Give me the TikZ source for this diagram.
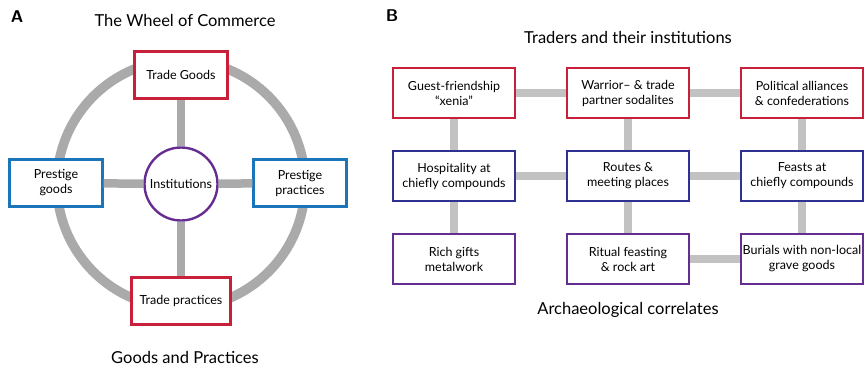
\documentclass[tikz,border=0pt]{standalone}
\usepackage{fontspec}
\setmainfont{Lato}
\usetikzlibrary{positioning}

\definecolor{tradered}{HTML}{C8203A}
\definecolor{prestigeblue}{HTML}{1B75BB}
\definecolor{routenavy}{HTML}{2E3192}
\definecolor{relicpurple}{HTML}{662D91}
\definecolor{wheelgray}{HTML}{AAAAAA}
\definecolor{linkgray}{HTML}{C2C2C2}

\tikzset{
	box/.style={draw, line width=2.4pt, fill=white, align=center, inner sep=0pt,
		font=\fontsize{12.5}{15}\selectfont},
	wbox/.style={box, minimum width=93pt, minimum height=47pt},
	gbox/.style={box, minimum width=122pt, minimum height=50pt},
	spoke/.style={line width=8.5pt, wheelgray},
	link/.style={line width=8.5pt, linkgray},
	title/.style={font=\fontsize{16.5}{19}\selectfont},
	panel/.style={font=\sffamily\bfseries\fontsize{17}{19}\selectfont}
}

\begin{document}
\begin{tikzpicture}[x=1pt, y=-1pt]
	\useasboundingbox (0,0) rectangle (865,368);

	% panel A: the wheel
	\node [panel] (pa) at (17,17) {A};
	\node [title] (wtitle) at (185,20) {The Wheel of Commerce};
	\node [title] (wfoot) at (185,357) {Goods and Practices};

	\coordinate (hub) at (181,184);
	\draw [spoke, line width=9.5pt] (hub) circle [radius=124];

	\node [wbox, draw=tradered] (goods) at (181,75) {Trade Goods};
	\node [wbox, draw=prestigeblue] (pgoods) at (56,183) {Prestige\\goods};
	\node [wbox, draw=prestigeblue] (ppract) at (300,183) {Prestige\\practices};
	\node [wbox, draw=tradered, minimum width=99pt] (practs) at (181,301) {Trade practices};
	\node [box, circle, draw=relicpurple, minimum size=73pt] (inst) at (hub) {Institutions};

	\draw [spoke] (inst) -- (goods);
	\draw [spoke] (inst) -- (pgoods);
	\draw [spoke] (inst) -- (ppract);
	\draw [spoke] (inst) -- (practs);

	% panel B: the grid
	\node [panel] (pb) at (392,16) {B};
	\node [title] (gtitle) at (628,37) {Traders and their institutions};
	\node [title] (gfoot) at (628,310) {Archaeological correlates};

	\node [gbox, draw=tradered] (xenia) at (454,93) {Guest-friendship\\``xenia''};
	\node [gbox, draw=tradered] (warrior) at (628,93) {Warrior-- \& trade\\partner sodalites};
	\node [gbox, draw=tradered] (allies) at (802,93) {Political alliances\\\& confederations};

	\node [gbox, draw=routenavy] (hosp) at (454,176) {Hospitality at\\chiefly compounds};
	\node [gbox, draw=routenavy] (routes) at (628,176) {Routes \&\\meeting places};
	\node [gbox, draw=routenavy] (feasts) at (802,176) {Feasts at\\chiefly compounds};

	\node [gbox, draw=relicpurple] (gifts) at (454,259) {Rich gifts\\metalwork};
	\node [gbox, draw=relicpurple] (ritual) at (628,259) {Ritual feasting\\\& rock art};
	\node [gbox, draw=relicpurple] (burial) at (802,259) {Burials with non-local\\grave goods};

	\draw [link] (xenia) -- (warrior);
	\draw [link] (warrior) -- (allies);
	\draw [link] (hosp) -- (routes);
	\draw [link] (routes) -- (feasts);
	\draw [link] (ritual) -- (burial);
	\draw [link] (xenia) -- (hosp);
	\draw [link] (hosp) -- (gifts);
	\draw [link] (warrior) -- (routes);
	\draw [link] (routes) -- (ritual);
	\draw [link] (allies) -- (feasts);
	\draw [link] (feasts) -- (burial);
\end{tikzpicture}
\end{document}
